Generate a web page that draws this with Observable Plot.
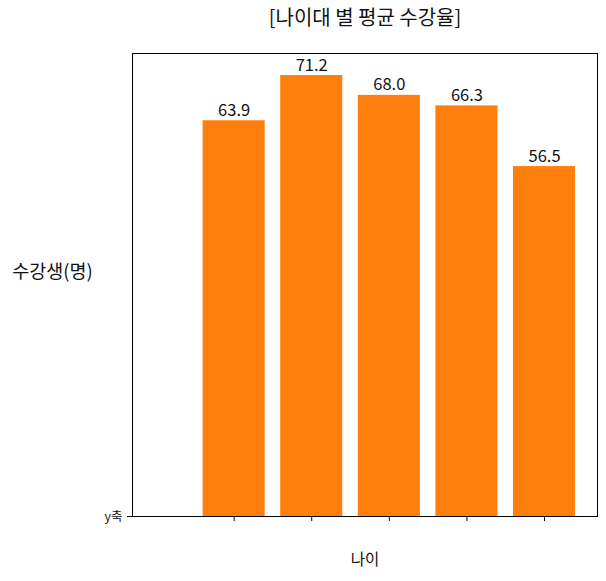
<!DOCTYPE html>
<html>
<head>
<meta charset="utf-8">
<script src="https://cdn.jsdelivr.net/npm/d3@7"></script>
<script src="https://cdn.jsdelivr.net/npm/@observablehq/plot@0.6"></script>
<style>
  body { margin: 0; background: #fff; }
  svg { font-family: "Noto Sans CJK KR", "Noto Sans", sans-serif; }
</style>
</head>
<body>
<div id="chart"></div>
<script>
const categories = [0, 1, 2, 3, 4];
const rates = [63.9, 71.2, 68.0, 66.3, 56.5];
const yTickValues = [0];
const yTickLabels = ["y축"];
const titleText = "[나이대 별 평균 수강율]";
const yLabelText = "수강생(명)";
const xLabelText = "나이";

const data = categories.map((c, i) => ({ i: c, v: rates[i] }));
const font = "Noto Sans CJK KR";

const chart = Plot.plot({
  width: 606,
  height: 581,
  marginTop: 53,
  marginBottom: 65,
  marginLeft: 132,
  marginRight: 9,
  style: { fontFamily: font, background: "#fff" },
  x: { domain: [-1.31, 4.683] },
  y: { domain: [0, 74.76] },
  marks: [
    Plot.rectY(data, { x1: d => d.i - 0.4, x2: d => d.i + 0.4, y1: 0, y2: "v", fill: "#ff7f0e" }),
    Plot.text(data, { x: "i", y: "v", text: d => d.v.toFixed(1), lineAnchor: "bottom", dy: -5, fontSize: 16.5, fill: "#111" }),
    Plot.frame({ stroke: "black", strokeWidth: 1 }),
    Plot.axisX({ ticks: categories, tickFormat: () => "", tickSize: 5, label: null, stroke: "black" }),
    Plot.axisY({ ticks: yTickValues, tickFormat: (d, i) => yTickLabels[i], tickSize: 5, tickPadding: 5, fontSize: 12.5, label: null, stroke: "black", fill: "#111" }),
    Plot.text([titleText], { frameAnchor: "top", dy: -35, fontSize: 20, lineAnchor: "middle", fill: "#111" }),
    Plot.text([yLabelText], { frameAnchor: "left", dx: -80, dy: -13, fontSize: 18.5, textAnchor: "middle", lineAnchor: "middle", fill: "#111" }),
    Plot.text([xLabelText], { frameAnchor: "bottom", dy: 44, fontSize: 15.5, lineAnchor: "middle", fill: "#111" })
  ]
});
document.getElementById("chart").appendChild(chart);
</script>
</body>
</html>
